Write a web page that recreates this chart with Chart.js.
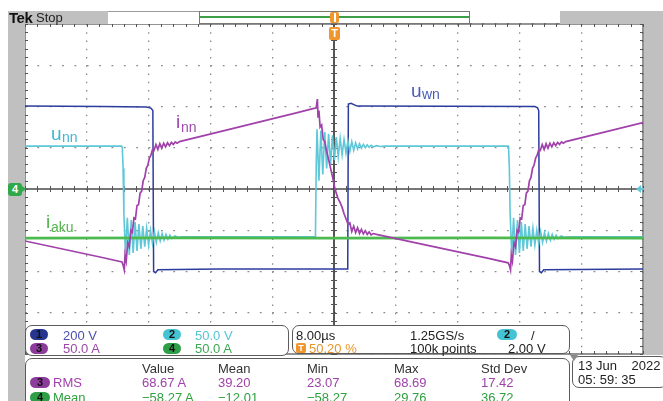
<!DOCTYPE html>
<html>
<head>
<meta charset="utf-8">
<script src="https://cdn.jsdelivr.net/npm/chart.js@4"></script>
<style>
html, body { margin: 0; padding: 0; background: #fff; }
#wrap { position: relative; width: 663px; height: 401px; overflow: hidden; font-family: "Liberation Sans", Arial, sans-serif; }
#scope { position: absolute; left: 0; top: 0; }
.box { position: absolute; box-sizing: border-box; }
.t { position: absolute; line-height: 1; white-space: pre; }
.panel { position: absolute; box-sizing: border-box; background: #fff; border: 1.5px solid #5c5c5c; border-radius: 7px; }
.badge { position: absolute; height: 11px; border-radius: 6px; font-size: 11px; font-weight: bold; line-height: 11px; text-align: center; color: #111; }
</style>
</head>
<body>
<div id="wrap"><canvas id="scope" width="663" height="401"></canvas></div>
<script>
// scope settings: 8 us/div over 10 div, 8 vertical div
const timeRange = [-40, 40];
const divRange = [-4, 4];

// traces as [time in us, position in div]
const uwnPoints = [ // ch1
    [-40, 2.01], [-30, 2.0], [-24.3, 1.99], [-23.7, 1.96], [-23.45, 1.9], [-23.35, -2.0], [-23.1, -2.03], [-22.8, -1.96],
    [-15, -1.94], [1.7, -1.94], [1.78, -1.85], [1.86, 2.06], [2.2, 2.08], [3.0, 2.01], [26.0, 2.0], [26.35, 1.97],
    [26.5, 1.9], [26.6, -2.0], [26.85, -2.03], [27.15, -1.96], [40, -1.94]
];
const unnPoints = [ // ch2
    [-40, 1.04], [-27.5, 1.04], [-27.4, 1.0], [-27.3, 0.5], [-27.2, -0.6],
    [-27.0, -1.55], [-26.75, -0.7], [-26.5, -1.6], [-26.25, -0.75], [-26.0, -1.55], [-25.75, -0.8], [-25.5, -1.5],
    [-25.25, -0.85], [-25.0, -1.45], [-24.75, -0.9], [-24.5, -1.4], [-24.25, -0.95], [-24.0, -1.36], [-23.75, -1.0],
    [-23.5, -1.32], [-23.25, -1.03], [-23.0, -1.29], [-22.75, -1.06], [-22.5, -1.26], [-22.25, -1.08], [-22.0, -1.24],
    [-21.75, -1.1], [-21.5, -1.22], [-21.25, -1.12], [-21.0, -1.2], [-20.6, -1.14], [-20.2, -1.17], [-19.5, -1.16],
    [-2.45, -1.16], [-2.4, -1.1], [-2.3, 0.6], [-2.2, 1.45], [-1.95, 0.2], [-1.7, 1.42], [-1.45, 0.35], [-1.2, 1.38],
    [-0.95, 0.5], [-0.7, 1.34], [-0.45, 0.6], [-0.2, 1.3], [0.05, 0.7], [0.3, 1.26], [0.55, 0.78], [0.8, 1.23],
    [1.05, 0.83], [1.3, 1.2], [1.55, 0.87], [1.8, 1.17], [2.05, 0.91], [2.3, 1.15], [2.55, 0.94], [2.8, 1.12],
    [3.05, 0.97], [3.3, 1.1], [3.55, 0.99], [3.8, 1.08], [4.05, 1.0], [4.3, 1.07], [4.55, 1.01], [4.8, 1.06],
    [5.1, 1.02], [5.5, 1.05], [6.0, 1.03], [6.5, 1.04],
    [22.55, 1.04], [22.6, 1.0], [22.7, 0.5], [22.8, -0.6], [23.0, -1.55], [23.25, -0.7], [23.5, -1.6], [23.75, -0.75],
    [24.0, -1.55], [24.25, -0.8], [24.5, -1.5], [24.75, -0.85], [25.0, -1.45], [25.25, -0.9], [25.5, -1.4], [25.75, -0.95],
    [26.0, -1.36], [26.25, -1.0], [26.5, -1.32], [26.75, -1.03], [27.0, -1.29], [27.25, -1.06], [27.5, -1.26],
    [27.75, -1.08], [28.0, -1.24], [28.25, -1.1], [28.5, -1.22], [28.75, -1.12], [29.0, -1.2], [29.4, -1.14],
    [29.8, -1.17], [30.5, -1.16], [40, -1.16]
];
const innPoints = [ // ch3
    [-40, -1.26], [-35, -1.46], [-30, -1.66], [-27.45, -1.77], [-27.3, -1.85], [-27.15, -1.96], [-27.05, -1.6],
    [-26.9, -1.75], [-26.7, -1.3], [-26.5, -1.4], [-26.3, -1.0], [-26.1, -1.05], [-25.9, -0.7], [-25.7, -0.72],
    [-25.5, -0.4], [-25.3, -0.38], [-25.1, -0.1], [-24.9, -0.05], [-24.7, 0.2], [-24.5, 0.28], [-24.3, 0.5],
    [-24.1, 0.58], [-23.9, 0.75], [-23.7, 0.82], [-23.5, 0.95],
    [-23.3, 0.93], [-23.05, 1.08], [-22.8, 0.96], [-22.55, 1.1], [-22.3, 0.99], [-22.05, 1.11], [-21.8, 1.02],
    [-21.55, 1.12], [-21.3, 1.05], [-21.05, 1.13], [-20.8, 1.08], [-20.55, 1.14], [-20.3, 1.11], [-20.0, 1.15],
    [-15, 1.38], [-10, 1.61], [-5, 1.84], [-2.46, 1.96],
    [-2.3, 1.97], [-2.15, 2.18], [-2.07, 1.75], [-1.95, 1.9], [-1.8, 1.5], [-1.6, 1.55], [-1.4, 1.2], [-1.2, 1.15],
    [-1.0, 0.95], [-0.78, 0.78], [-0.5, 0.55], [-0.2, 0.3], [0.13, 0.0], [0.5, -0.22], [0.8, -0.33], [1.04, -0.44],
    [1.3, -0.6], [1.55, -0.72], [1.81, -0.85],
    [2.05, -0.82], [2.3, -1.03], [2.55, -0.9], [2.8, -1.06], [3.05, -0.94], [3.3, -1.08], [3.55, -0.98], [3.8, -1.09],
    [4.05, -1.01], [4.3, -1.1], [4.55, -1.04], [4.8, -1.11], [5.1, -1.08], [5.5, -1.1],
    [10, -1.28], [15, -1.48], [20, -1.68], [22.55, -1.79],
    [22.7, -1.85], [22.85, -1.96], [22.95, -1.6], [23.1, -1.75], [23.3, -1.3], [23.5, -1.4], [23.7, -1.0], [23.9, -1.05],
    [24.1, -0.7], [24.3, -0.72], [24.5, -0.4], [24.7, -0.38], [24.9, -0.1], [25.1, -0.05], [25.3, 0.2], [25.5, 0.28],
    [25.7, 0.5], [25.9, 0.58], [26.1, 0.75], [26.3, 0.82], [26.5, 0.95],
    [26.7, 0.93], [26.95, 1.08], [27.2, 0.96], [27.45, 1.1], [27.7, 0.99], [27.95, 1.11], [28.2, 1.02], [28.45, 1.12],
    [28.7, 1.05], [28.95, 1.13], [29.2, 1.08], [29.45, 1.14], [29.7, 1.11], [30.0, 1.15],
    [35, 1.38], [40, 1.61]
];
const iakuPoints = [ // ch4
    [-40, -1.19], [-20, -1.185], [0, -1.19], [20, -1.185], [40, -1.19]
];

// readout texts
const chScales = ['200 V', '50.0 V', '50.0 A', '50.0 A'];
const timebase = ['8.00\u00b5s', '50.20 %', '1.25GS/s', '100k points', '2.00 V'];
const measHeaders = ['Value', 'Mean', 'Min', 'Max', 'Std Dev'];
const rmsRow = ['68.67 A', '39.20', '23.07', '68.69', '17.42'];
const meanRow = ['\u221258.27 A', '\u221212.01', '\u221258.27', '29.76', '36.72'];
const stamp = ['13 Jun    2022', '05: 59: 35'];

const C1 = '#2c3c9e', C2 = '#5ec7d8', C3 = '#a042aa', C4 = '#4cba4e';

const toXY = pts => pts.map(p => ({x: p[0], y: p[1]}));

const graticule = {
    id: 'graticule',
    beforeDatasetsDraw(chart) {
        const {ctx, chartArea: a, scales: {x, y}} = chart;
        const cx = x.getPixelForValue(0), cy = y.getPixelForValue(0);
        ctx.save();
        ctx.strokeStyle = '#5a5a5a';
        ctx.lineWidth = 1.3;
        ctx.strokeRect(a.left, a.top, a.right - a.left, a.bottom - a.top);
        ctx.strokeStyle = '#4a4a4a';
        ctx.beginPath();
        ctx.moveTo(a.left, cy); ctx.lineTo(a.right, cy);
        ctx.stroke();
        ctx.strokeStyle = '#1e1e1e';
        ctx.lineWidth = 1.5;
        ctx.beginPath();
        ctx.moveTo(cx, a.top); ctx.lineTo(cx, a.bottom);
        ctx.stroke();
        ctx.strokeStyle = '#555';
        ctx.lineWidth = 1;
        ctx.beginPath();
        for (let v = x.min; v <= x.max + 1e-6; v += 1.6) {
            const px = Math.round(x.getPixelForValue(v)) + 0.5;
            ctx.moveTo(px, cy - 3); ctx.lineTo(px, cy + 3);
            ctx.moveTo(px, a.top); ctx.lineTo(px, a.top + 3);
            ctx.moveTo(px, a.bottom - 3); ctx.lineTo(px, a.bottom);
        }
        for (let v = y.min; v <= y.max + 1e-6; v += 0.2) {
            const py = Math.round(y.getPixelForValue(v)) + 0.5;
            ctx.moveTo(cx - 3, py); ctx.lineTo(cx + 3, py);
            ctx.moveTo(a.left, py); ctx.lineTo(a.left + 3, py);
            ctx.moveTo(a.right - 3, py); ctx.lineTo(a.right, py);
        }
        ctx.stroke();
        ctx.restore();
    }
};

const gridColor = (c) => {
    const v = c.tick ? c.tick.value : null;
    if (v === 0 || v === null) return 'rgba(0,0,0,0)';
    return '#8a8a8a';
};

new Chart(document.getElementById('scope').getContext('2d'), {
    type: 'line',
    data: {
        datasets: [
            { label: 'i_nn', data: toXY(innPoints), borderColor: C3, borderWidth: 1.7 },
            { label: 'i_aku', data: toXY(iakuPoints), borderColor: C4, borderWidth: 2.6 },
            { label: 'u_nn', data: toXY(unnPoints), borderColor: C2, borderWidth: 1.6 },
            { label: 'u_wn', data: toXY(uwnPoints), borderColor: C1, borderWidth: 1.5 }
        ]
    },
    options: {
        responsive: false,
        animation: false,
        events: [],
        elements: { point: { radius: 0 }, line: { tension: 0, fill: false } },
        layout: { padding: { left: 25, top: 24, right: 20, bottom: 47 } },
        plugins: { legend: { display: false }, tooltip: { enabled: false } },
        scales: {
            x: {
                type: 'linear', min: timeRange[0], max: timeRange[1],
                ticks: { display: false, stepSize: 8 },
                grid: { color: gridColor, drawTicks: false, lineWidth: 1.3 },
                border: { display: false, dash: [1.6, 6.65] },
                afterFit: s => { s.height = 0; }
            },
            y: {
                type: 'linear', min: divRange[0], max: divRange[1],
                ticks: { display: false, stepSize: 1 },
                grid: { color: gridColor, drawTicks: false, lineWidth: 1.3 },
                border: { display: false, dash: [1.8, 10.56] },
                afterFit: s => { s.width = 0; }
            }
        }
    },
    plugins: [graticule]
});

// ---- screen decorations and readouts ----
const wrap = document.getElementById('wrap');

function box(x, y, w, h, css) {
    const d = document.createElement('div');
    d.className = 'box';
    Object.assign(d.style, { left: x + 'px', top: y + 'px', width: w + 'px', height: h + 'px' }, css || {});
    wrap.appendChild(d);
    return d;
}
function text(x, base, str, color, size, css) {
    const d = document.createElement('div');
    d.className = 't';
    d.textContent = str;
    Object.assign(d.style, { left: x + 'px', top: (base - 0.846 * size) + 'px', color: color, fontSize: size + 'px' }, css || {});
    wrap.appendChild(d);
    return d;
}
function badge(x, y, w, n, bg) {
    const d = document.createElement('div');
    d.className = 'badge';
    d.textContent = n;
    Object.assign(d.style, { left: x + 'px', top: y + 'px', width: w + 'px', background: bg });
    wrap.appendChild(d);
}
function panel(x, y, w, h) {
    const d = document.createElement('div');
    d.className = 'panel';
    Object.assign(d.style, { left: x + 'px', top: y + 'px', width: w + 'px', height: h + 'px' });
    wrap.appendChild(d);
}

const GRAY = '#c0c0c0';
// top status strip and side bars
box(8, 11, 17, 390, { background: GRAY });
box(8, 11, 100, 13, { background: GRAY });
box(108, 11, 91, 13, { background: '#fff', borderTop: '1px solid #9a9a9a' });
box(199, 11, 271, 13, { background: '#fff', border: '1px solid #777' });
box(200, 16, 269, 1.5, { background: '#3f9f48' });
box(560, 11, 103, 13, { background: GRAY });
box(643.5, 11, 20, 344, { background: GRAY });
text(9, 23, 'Tek', '#111', 15, { fontWeight: 'bold', letterSpacing: '-0.5px' });
text(36, 22, 'Stop', '#222', 13);

// trigger position markers
box(330, 12, 9, 11, { background: '#f0962c', borderRadius: '2px' });
box(333.5, 13, 2, 9, { background: '#fff' });
const tm = box(329, 27, 11, 13, { background: '#f0962c', borderRadius: '2px', color: '#fff', fontSize: '11px', fontWeight: 'bold', textAlign: 'center', lineHeight: '13px' });
tm.textContent = 'T';

// ground marker ch4 and trigger level arrow
const gm = box(8, 183, 14, 13, { background: '#2fa84c', borderRadius: '3px', color: '#fff', fontSize: '11px', fontWeight: 'bold', textAlign: 'center', lineHeight: '13px' });
gm.textContent = '4';
box(22, 186, 0, 0, { borderTop: '3.5px solid transparent', borderBottom: '3.5px solid transparent', borderLeft: '4px solid #2fa84c' });
box(636, 185, 0, 0, { borderTop: '4px solid transparent', borderBottom: '4px solid transparent', borderRight: '5px solid ' + C2 });
box(640, 188, 4, 2, { background: C2 });

// trace labels
text(411, 97, 'u', '#4a5cb5', 19);
text(422, 99, 'wn', '#4a5cb5', 14);
text(51, 140, 'u', '#3fb6d2', 19);
text(62, 142, 'nn', '#3fb6d2', 14);
text(176, 128, 'i', '#a04aae', 19);
text(181, 132, 'nn', '#a04aae', 14);
text(46, 228, 'i', '#52b44e', 19);
text(51, 232, 'aku', '#52b44e', 14);

// channel scale panel
panel(25, 325, 264, 31);
badge(30, 329, 18, '1', '#26358e');
text(63, 340, chScales[0], '#4d4fae', 13);
badge(163, 329, 18, '2', '#45c3d3');
text(195, 340, chScales[1], '#55c5d5', 13);
badge(30, 343, 18, '3', '#8c3c9a');
text(63, 353, chScales[2], '#9b4aa9', 13);
badge(163, 343, 18, '4', '#2f9e48');
text(195, 353, chScales[3], '#3da653', 13);

// timebase / trigger panel
panel(292, 325, 278, 29);
text(296, 340, timebase[0], '#222', 13);
const ti = box(296, 343, 10, 10, { background: '#f0962c', borderRadius: '2px', color: '#fff', fontSize: '9px', fontWeight: 'bold', textAlign: 'center', lineHeight: '10px' });
ti.textContent = 'T';
text(309, 353, timebase[1], '#e8962a', 13);
text(410, 340, timebase[2], '#222', 13);
text(410, 353, timebase[3], '#222', 13);
badge(497, 329, 20, '2', '#45c3d3');
text(531, 340, '/', '#222', 13);
text(508, 353, timebase[4], '#222', 13);

// measurement panel
panel(25, 358, 545, 60);
const cols = [142, 218, 307, 394, 481];
measHeaders.forEach((h, i) => text(cols[i], 373, h, '#333', 13));
badge(30, 377, 20, '3', '#8c3c9a');
text(53, 387, 'RMS', C3, 13);
rmsRow.forEach((v, i) => text(cols[i], 387, v, C3, 13));
badge(30, 392, 20, '4', '#2f9e48');
text(53, 402, 'Mean', '#2fa040', 13);
meanRow.forEach((v, i) => text(cols[i], 402, v, '#2fa040', 13));

// date panel
panel(572, 356, 95, 32);
box(570, 355, 0, 0, { borderLeft: '4px solid transparent', borderRight: '4px solid transparent', borderTop: '6px solid #8a8a8a' });
text(578, 370, stamp[0], '#222', 13);
text(578, 384, stamp[1], '#222', 13);
</script>
</body>
</html>
